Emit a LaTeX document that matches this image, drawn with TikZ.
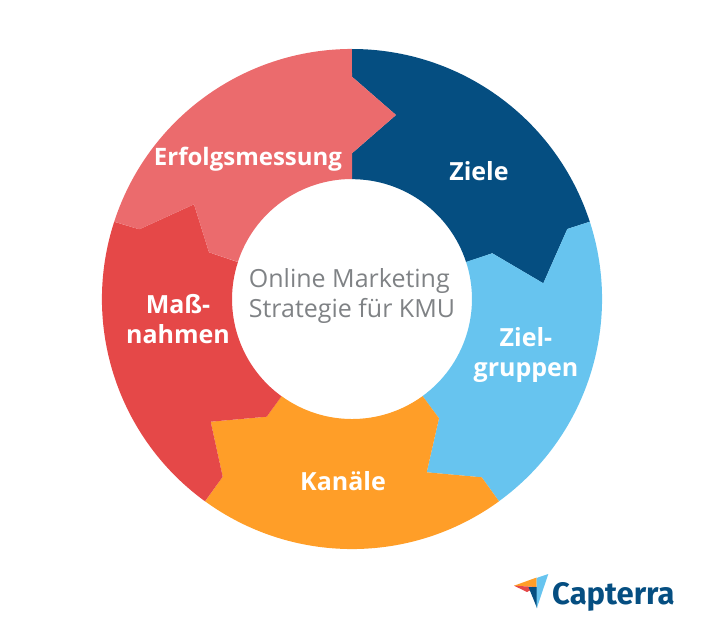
\documentclass[tikz,border=0pt]{standalone}
\usepackage{fontspec}
\setmainfont{Open Sans}
\newfontfamily\logofont{Fira Sans}
\definecolor{navy}{HTML}{054E81}
\definecolor{sky}{HTML}{67C4EF}
\definecolor{amber}{HTML}{FF9E28}
\definecolor{redc}{HTML}{E54848}
\definecolor{pinkc}{HTML}{EB6B6D}
\definecolor{greyt}{HTML}{7F8285}
\tikzset{
  seglabel/.style={text=white,font=\fontsize{25}{30}\selectfont\bfseries,align=center,inner sep=0pt},
  widelabel/.style={seglabel,font=\fontsize{24}{30}\selectfont\bfseries},
  centerlabel/.style={text=greyt,font=\fontsize{25}{30}\selectfont,align=left,inner sep=0pt},
  logotext/.style={text=navy,font=\logofont\fontsize{31}{31}\selectfont\bfseries,inner sep=0pt,anchor=base west}
}
\begin{document}
\begin{tikzpicture}[x=1pt,y=-1pt]
\useasboundingbox (0,0) rectangle (712,618);
% segments
\fill[navy] (352,49) arc[start angle=90,end angle=18,radius=250pt]
  -- (567.3,229) -- (543.3,283.3) -- (492.3,253.3) -- (466.1,262.1)
  arc[start angle=18,end angle=90,radius=120pt]
  -- (352,153.3) -- (396,115) -- (352,76.7) -- cycle;
\fill[sky] (589.8,221.7) arc[start angle=18,end angle=-54,radius=250pt]
  -- (481.7,477.3) -- (426.7,472.3) -- (439,418.3) -- (422.5,396.1)
  arc[start angle=-54,end angle=18,radius=120pt]
  -- (492.3,253.3) -- (543.3,283.3) -- (567.3,229) -- cycle;
\fill[amber] (499,501.3) arc[start angle=-54,end angle=-126,radius=250pt]
  -- (222.7,476.7) -- (210.7,421.7) -- (266.7,416.7) -- (281.5,396.1)
  arc[start angle=-126,end angle=-54,radius=120pt]
  -- (439,418.3) -- (426.7,472.3) -- (481.7,477.3) -- cycle;
\fill[redc] (205,501.3) arc[start angle=234,end angle=162,radius=250pt]
  -- (139.3,229.3) -- (194,204.3) -- (209,252.3) -- (237.9,262.1)
  arc[start angle=162,end angle=234,radius=120pt]
  -- (266.7,416.7) -- (210.7,421.7) -- (222.7,476.7) -- cycle;
\fill[pinkc] (114.2,221.7) arc[start angle=162,end angle=90,radius=250pt]
  -- (352,76.7) -- (396,115) -- (352,153.3) -- (352,179)
  arc[start angle=90,end angle=162,radius=120pt]
  -- (209,252.3) -- (194,204.3) -- (139.3,229.3) -- cycle;
% labels
\node[seglabel] (ziele) at (479,171) {Ziele};
\node[seglabel] (zielgruppen) at (526,355) {Ziel-\\gruppen};
\node[seglabel] (kanaele) at (343,481) {Kanäle};
\node[seglabel] (massnahmen) at (178,319) {Maß-\\nahmen};
\node[widelabel] (erfolg) at (248,159) {Erfolgsmessung};
\node[centerlabel] (center) at (352,296) {Online Marketing\\Strategie für KMU};
% logo
\fill[amber] (514,585.7) -- (536.7,577.5) -- (536.7,587) -- cycle;
\fill[redc] (514,585.7) -- (536.7,587) -- (527,592) -- cycle;
\fill[navy] (528.5,587) -- (537,587) -- (537,608) -- cycle;
\fill[sky] (548.3,574) -- (536.5,578) -- (536.7,608.3) -- cycle;
\node[logotext] (capterra) at (552,604) {Capterra};
\end{tikzpicture}
\end{document}
